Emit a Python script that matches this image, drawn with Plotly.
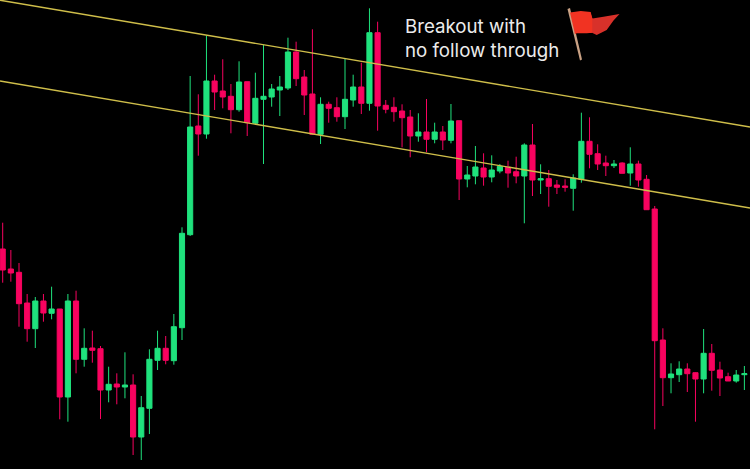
import plotly.graph_objects as go

opens = [220,200,196.7,166,140.3,168,155.7,160,72,168,109.7,121,120.3,79,85,82,84,32,60.7,108.7,120.7,108.3,141.3,234.3,343,335,388,378,372.7,359.3,387.3,345.7,369.7,372,379,381,417,392,375,334.7,364.7,361.3,352.3,369,382,365.7,436.3,363.7,361.7,358,352,333,337,329.7,337,328.7,348.3,290,293,301,292,298,301.7,297.3,293,324,289,290.3,284,283,280.7,289.7,327.7,315.3,306,303.3,306,296,305,289.7,260,129,91.3,94.3,100,96.3,90,115.7,99,92.3,88,94.3]
highs = [246.3,219,206,175,172,175,182.3,160,175,178.3,140.7,138.3,123,102.3,95.7,116.7,94.7,73,119.7,138.3,133,155,241.7,393,374.7,433.3,394.3,409.7,385,407.7,387.3,396.3,424,385,393,431.3,427.3,399,439.7,371.7,367.3,371.7,410,394.3,406.3,460.7,447.3,369,371.7,364.7,359,355.7,370,346.3,343,365,348.3,303,323,315.7,313.7,305,308.3,312.3,325.7,345,304.7,299,289,289.7,294.7,356.3,351.7,324.7,313.3,309,306.7,321.7,308.3,294,263,140.7,105.7,107.7,105.7,96.7,140,125,107.3,96.3,99,103]
lows = [186.3,187.3,142.3,127.3,121,147.3,149.7,49.7,47.3,95.7,102.3,106.3,50,66.7,64.7,70.7,14,9,35,99,104.7,104.3,129,233,313.3,330.3,359,360.7,335.7,357.3,333,344,305,362.3,353,379,383,354,334,325,346.3,347.3,340,362.3,355,358.3,338.3,355.7,347.3,321.7,311.7,327.3,316.7,325.7,319,325.7,269,281.7,284.7,283.3,286.7,295.7,281.3,285.7,245.7,273,275,262.3,275,277.3,258.3,286.3,300.7,299,293,301,295.7,283.3,282.3,259.3,39.7,63,75.7,87,77,47.3,75.7,78.3,73,88,86.3,79]
closes = [199,196,165.3,140.3,168,156,160,72,168,109.7,120.7,118.7,79,84.7,82,84,32,61.3,109.7,120.7,108.7,142.3,235.7,342,335,388,377,372,359.3,387,346.3,370.7,372.7,380,382,417,390.3,374,334.7,364.7,360.7,352.3,369.7,382,365.7,436.3,363,359.7,357.3,351.3,333,337,329.7,337,329,348,290,294,302,292,299,302.7,296,293,324,289,290.3,282.7,281.7,281.7,291,327.7,314.7,305,303.3,305,295.7,305,289,259.3,128.3,91.3,95,100,95.3,90,115.7,98.7,91,88,94,95.3]
candle_index = list(range(len(opens)))

upper_channel_x = [-0.33, 91.69]
upper_channel_price = [468.8, 342]
lower_channel_x = [-0.33, 91.69]
lower_channel_price = [388, 261]

note_text = "Breakout with<br>no follow through"

RED = "#f8035f"
GREEN = "#1fe27d"
GOLD = "#cfbe4a"

fig = go.Figure()
fig.add_trace(go.Candlestick(
    x=candle_index, open=opens, high=highs, low=lows, close=closes,
    increasing=dict(line=dict(color=GREEN, width=1), fillcolor=GREEN),
    decreasing=dict(line=dict(color=RED, width=1), fillcolor=RED),
    whiskerwidth=0, showlegend=False, hoverinfo="skip",
))
for xs, ys in ((upper_channel_x, upper_channel_price), (lower_channel_x, lower_channel_price)):
    fig.add_trace(go.Scatter(x=xs, y=ys, mode="lines", line=dict(color=GOLD, width=1.4),
                             showlegend=False, hoverinfo="skip"))

fig.add_annotation(x=402.5, y=469 - 38, xref="x2", yref="y2", text=note_text, showarrow=False,
                   xanchor="left", yanchor="middle", align="left",
                   font=dict(family="Inter, sans-serif", size=18.7, color="#ececec"))


def pts(points):
    return "M" + " L".join(f"{px} {469 - py}" for px, py in points) + " Z"


# flag decoration
fig.add_shape(type="path", xref="x2", yref="y2", layer="above", line=dict(width=0), fillcolor="#c9a184",
              path=pts([(567.5, 9), (570, 8), (582, 59.5), (580, 60.5)]))
fig.add_shape(type="path", xref="x2", yref="y2", layer="above", line=dict(width=0), fillcolor="#d8312a",
              path=pts([(590, 12), (592.5, 18.5), (603.5, 16.7), (619.5, 14), (613.5, 20.5), (606.7, 30), (596.7, 35), (592, 32.7), (589, 33)]))
fig.add_shape(type="path", xref="x2", yref="y2", layer="above", line=dict(width=0), fillcolor="#f13322",
              path=pts([(570, 12.5), (580.7, 11), (590.7, 12), (592.3, 18.5), (592.3, 32.7), (586.7, 33.3), (576.7, 33.3), (575, 34.3)]))

fig.update_layout(
    width=750, height=469, margin=dict(l=0, r=0, t=0, b=0),
    paper_bgcolor="#000000", plot_bgcolor="#000000", boxgap=0.1,
    xaxis=dict(range=[-0.331, 91.69], visible=False, rangeslider=dict(visible=False), fixedrange=True),
    yaxis=dict(range=[0, 469], visible=False, fixedrange=True),
    xaxis2=dict(range=[0, 750], visible=False, overlaying="x", fixedrange=True),
    yaxis2=dict(range=[0, 469], visible=False, overlaying="y", fixedrange=True),
)
fig.add_trace(go.Scatter(x=[0], y=[0], xaxis="x2", yaxis="y2", mode="markers",
                         marker=dict(opacity=0), showlegend=False, hoverinfo="skip"))

fig.write_html("out.html", config=dict(displayModeBar=False),
               post_script="document.body.style.margin='0';document.documentElement.style.background='#000';")
